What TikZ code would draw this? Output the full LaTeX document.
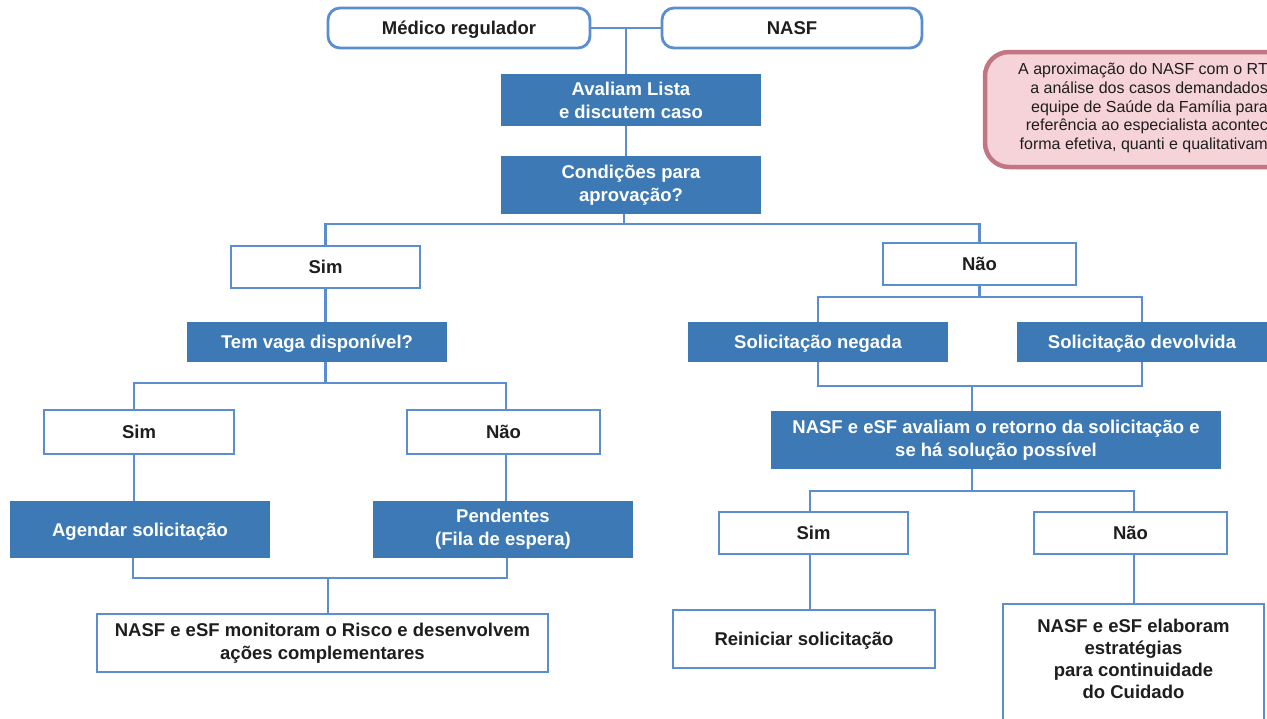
\documentclass[tikz,border=0pt]{standalone}
\usepackage{fontspec}
\setmainfont{Liberation Sans}
\usetikzlibrary{calc}
\definecolor{bfill}{HTML}{3C79B5}
\definecolor{bline}{HTML}{5B8ED1}
\definecolor{tdark}{HTML}{1E1E1E}
\definecolor{pinkfill}{HTML}{F5D3D8}
\definecolor{pinkline}{HTML}{C27583}
\tikzset{
  base/.style={rectangle, inner sep=0pt, align=center, font=\fontsize{18.5}{23}\selectfont\bfseries},
  one/.style={text height=13pt, text depth=0pt},
  wbox/.style={base, draw=bline, line width=2.8pt, fill=white, text=tdark},
  rbox/.style={wbox, rounded corners=12pt},
  fbox/.style={base, fill=bfill, text=white},
  conn/.style={draw=bline, line width=2.8pt},
  callout/.style={rectangle, draw=pinkline, fill=pinkfill, line width=4.5pt, rounded corners=24pt, inner sep=0pt},
}
\begin{document}
\begin{tikzpicture}[x=1pt, y=-1pt]
\clip (0,0) rectangle (1267,718);
\fill[white] (0,0) rectangle (1267,718);

% callout
\node[callout, minimum width=340pt, minimum height=115pt] (note) at (1155,109.5) {};
\node[anchor=east, align=right, inner sep=0pt, text=tdark, font=\fontsize{16}{18.6}\selectfont] (notetxt) at (1268,108)
 {A aproximação do NASF com o RT\\a análise dos casos demandados\\equipe de Saúde da Família para\\referência ao especialista acontec\\forma efetiva, quanti e qualitativam};

% top
\node[rbox, one, minimum width=262pt, minimum height=40pt] (med) at (459,28) {Médico regulador};
\node[rbox, one, minimum width=260pt, minimum height=40pt] (nasf) at (792,28) {NASF};
\node[fbox, minimum width=260pt, minimum height=52pt] (aval) at (631,100) {Avaliam Lista\\e discutem caso};
\node[fbox, minimum width=260pt, minimum height=58pt] (cond) at (631,185) {Condições para\\aprovação?};

% left branch
\node[wbox, one, minimum width=189pt, minimum height=42pt] (simA) at (325.5,267) {Sim};
\node[fbox, one, minimum width=260pt, minimum height=40pt] (tem) at (317,342) {Tem vaga disponível?};
\node[wbox, one, minimum width=190pt, minimum height=44pt] (simB) at (139,432) {Sim};
\node[wbox, one, minimum width=193pt, minimum height=44pt] (naoB) at (503.5,432) {Não};
\node[fbox, one, minimum width=260pt, minimum height=57pt] (ag) at (140,529.5) {Agendar solicitação};
\node[fbox, minimum width=260pt, minimum height=57pt] (pend) at (503,529.5) {Pendentes\\(Fila de espera)};
\node[wbox, minimum width=451pt, minimum height=58pt] (mon) at (322.5,643) {NASF e eSF monitoram o Risco e desenvolvem\\ações complementares};

% right branch
\node[wbox, one, minimum width=193pt, minimum height=42pt] (naoA) at (979.5,264) {Não};
\node[fbox, one, minimum width=260pt, minimum height=40pt] (neg) at (818,342) {Solicitação negada};
\node[fbox, one, minimum width=250pt, minimum height=40pt] (dev) at (1142,342) {Solicitação devolvida};
\node[fbox, minimum width=450pt, minimum height=58pt] (aval2) at (996,440) {NASF e eSF avaliam o retorno da solicitação e\\se há solução possível};
\node[wbox, one, minimum width=189pt, minimum height=42pt] (simC) at (813.5,533) {Sim};
\node[wbox, one, minimum width=193pt, minimum height=42pt] (naoC) at (1130.5,533) {Não};
\node[wbox, one, minimum width=262pt, minimum height=58pt] (rein) at (804,639) {Reiniciar solicitação};
\node[wbox, minimum width=261pt, minimum height=124pt] (elab) at (1133.5,666) {};
\node[base, text=tdark, font=\fontsize{18.5}{22}\selectfont\bfseries] (elabtxt) at (1133.5,659) {NASF e eSF elaboram\\estratégias\\para continuidade\\do Cuidado};

% connectors
\coordinate (j0) at ($(med.east)!0.5!(nasf.west)$);
\draw[conn] (med.east) -- (nasf.west);
\draw[conn] (j0) -- (j0 |- aval.north);
\draw[conn] (j0 |- aval.south) -- (j0 |- cond.north);

\coordinate (j1) at (624,224);
\draw[conn] (j1 |- cond.south) -- (j1);
\draw[conn] (simA.north) -- (simA.north |- 0,224) -- (naoA.north |- 0,224) -- (naoA.north);

\draw[conn] (simA.south) -- (simA.south |- tem.north);
\draw[conn] (simA.south |- tem.south) -- (simA.south |- 0,383);
\coordinate (j2) at (134,383);
\coordinate (j3) at (506,383);
\draw[conn] (j2 |- simB.north) -- (j2) -- (j3) -- (j3 |- naoB.north);
\draw[conn] (j2 |- simB.south) -- (j2 |- ag.north);
\draw[conn] (j3 |- naoB.south) -- (j3 |- pend.north);
\coordinate (j4) at (133,578);
\coordinate (j6) at (507,578);
\draw[conn] (j4 |- ag.south) -- (j4) -- (j6) -- (j6 |- pend.south);
\coordinate (j5) at (328,578);
\draw[conn] (j5) -- (j5 |- mon.north);

\draw[conn] (naoA.south) -- (naoA.south |- 0,297);
\draw[conn] (neg.north) -- (neg.north |- 0,297) -- (dev.north |- 0,297) -- (dev.north);
\draw[conn] (neg.south) -- (neg.south |- 0,386) -- (dev.south |- 0,386) -- (dev.south);
\coordinate (j7) at (972,386);
\draw[conn] (j7) -- (j7 |- aval2.north);
\coordinate (j8) at (972,491);
\draw[conn] (j8 |- aval2.south) -- (j8);
\coordinate (j9) at (810,491);
\coordinate (j10) at (1134,491);
\draw[conn] (j9 |- simC.north) -- (j9) -- (j10) -- (j10 |- naoC.north);
\draw[conn] (j9 |- simC.south) -- (j9 |- rein.north);
\draw[conn] (j10 |- naoC.south) -- (j10 |- elab.north);
\end{tikzpicture}
\end{document}
